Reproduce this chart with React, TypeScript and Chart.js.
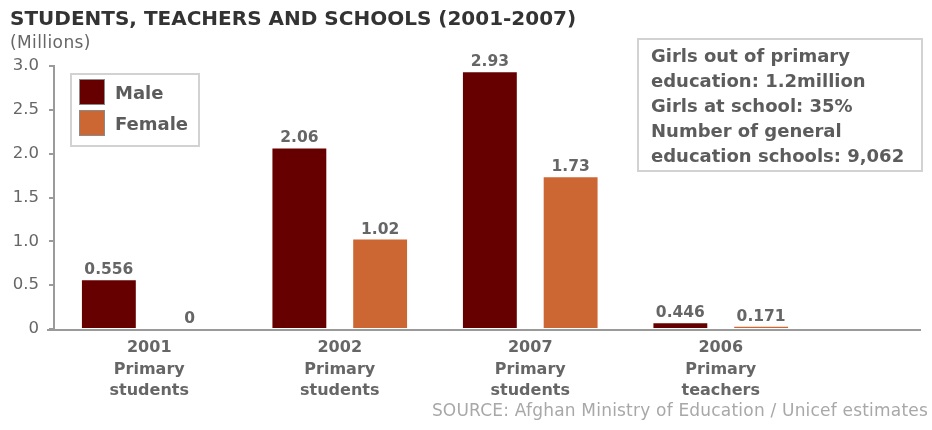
import React, { useEffect, useRef } from 'react';
import { Chart, registerables } from 'chart.js';

Chart.register(...registerables);

// ---- Data ----
const categoryYears = ['2001', '2002', '2007', '2006'];
const categoryKinds = [
  ['Primary', 'students'],
  ['Primary', 'students'],
  ['Primary', 'students'],
  ['Primary', 'teachers'],
];
const seriesNames = ['Male', 'Female'];
const maleValues = [0.556, 2.06, 2.93, 0.065];
const femaleValues = [0, 1.02, 1.73, 0.025];
const maleLabels = ['0.556', '2.06', '2.93', '0.446'];
const femaleLabels = ['0', '1.02', '1.73', '0.171'];
const yTickLabels = ['0', '0.5', '1.0', '1.5', '2.0', '2.5', '3.0'];
const noteLines = [
  'Girls out of primary',
  'education: 1.2million',
  'Girls at school: 35%',
  'Number of general',
  'education schools: 9,062',
];
const titleText = 'STUDENTS, TEACHERS AND SCHOOLS (2001-2007)';
const unitText = '(Millions)';
const sourceText = 'SOURCE: Afghan Ministry of Education / Unicef estimates';

// ---- Styles ----
const FONT = '"DejaVu Sans", Verdana, sans-serif';
const seriesColors = ['#660000', '#cc6633'];
const AXIS = '#9a9a9a';
const TEXT = '#666666';
const DARK_TEXT = '#5c5c5c';

const valueLabels = [maleLabels, femaleLabels];

const baselinePlugin = {
  id: 'baseline',
  beforeDatasetsDraw(chart: any) {
    const { ctx, chartArea, scales } = chart;
    const y = Math.round(scales.y.getPixelForValue(0)) + 1;
    ctx.save();
    ctx.strokeStyle = AXIS;
    ctx.lineWidth = 2;
    ctx.beginPath();
    ctx.moveTo(chartArea.left - 7, y);
    ctx.lineTo(chart.width - 11, y);
    ctx.stroke();
    ctx.restore();
  },
};

const valueLabelPlugin = {
  id: 'valueLabels',
  afterDatasetsDraw(chart: any) {
    const { ctx } = chart;
    ctx.save();
    ctx.font = `bold 15.5px ${FONT}`;
    ctx.fillStyle = TEXT;
    ctx.textAlign = 'center';
    ctx.textBaseline = 'alphabetic';
    chart.data.datasets.forEach((_ds: any, i: number) => {
      const meta = chart.getDatasetMeta(i);
      meta.data.forEach((el: any, j: number) => {
        ctx.fillText(valueLabels[i][j], el.x, el.y - 6);
      });
    });
    ctx.restore();
  },
};

export default function App() {
  const canvasRef = useRef<HTMLCanvasElement | null>(null);

  useEffect(() => {
    if (!canvasRef.current) return;
    const chart = new Chart(canvasRef.current, {
      type: 'bar',
      data: {
        labels: categoryYears.map((y, i) => [y, ...categoryKinds[i]]),
        datasets: [
          {
            label: seriesNames[0],
            data: maleValues,
            backgroundColor: seriesColors[0],
            barPercentage: 0.667,
            categoryPercentage: 0.848,
          },
          {
            label: seriesNames[1],
            data: femaleValues,
            backgroundColor: seriesColors[1],
            barPercentage: 0.667,
            categoryPercentage: 0.848,
          },
        ],
      },
      options: {
        responsive: false,
        animation: false,
        devicePixelRatio: 1,
        events: [],
        layout: { padding: { left: 0, top: 66, right: 116, bottom: 0 } },
        plugins: {
          legend: { display: false },
          tooltip: { enabled: false },
          title: { display: false },
        },
        scales: {
          x: {
            type: 'category',
            offset: true,
            grid: { display: false, drawTicks: false },
            border: { display: false },
            ticks: {
              color: TEXT,
              padding: 8,
              maxRotation: 0,
              autoSkip: false,
              font: { family: FONT, size: 16, weight: 'bold', lineHeight: 1.35 },
            },
            afterFit: (s: any) => {
              s.height = 101;
            },
          },
          y: {
            min: 0,
            max: 3,
            ticks: {
              stepSize: 0.5,
              color: TEXT,
              padding: 10,
              font: { family: FONT, size: 16.5 },
              callback: (_v: any, i: number) => yTickLabels[i],
            },
            grid: {
              drawOnChartArea: false,
              drawTicks: true,
              tickLength: 5,
              color: AXIS,
              lineWidth: 2,
            },
            border: { display: true, color: AXIS, width: 2 },
            afterFit: (s: any) => {
              s.width = 54;
            },
          },
        },
      } as any,
      plugins: [baselinePlugin, valueLabelPlugin],
    });
    return () => chart.destroy();
  }, []);

  return (
    <div
      style={{
        position: 'fixed',
        left: 0,
        top: 0,
        width: 932,
        height: 430,
        background: '#ffffff',
        overflow: 'hidden',
        fontFamily: FONT,
      }}
    >
      <canvas
        ref={canvasRef}
        width={932}
        height={430}
        style={{ position: 'absolute', left: 0, top: 0, width: 932, height: 430 }}
      />
      <div
        style={{
          position: 'absolute',
          left: 10,
          top: 8,
          fontSize: 20,
          lineHeight: '20px',
          fontWeight: 'bold',
          color: '#333333',
          whiteSpace: 'nowrap',
        }}
      >
        {titleText}
      </div>
      <div
        style={{
          position: 'absolute',
          left: 10,
          top: 34,
          fontSize: 17,
          lineHeight: '17px',
          letterSpacing: '0.4px',
          color: TEXT,
          whiteSpace: 'nowrap',
        }}
      >
        {unitText}
      </div>
      {/* Legend */}
      <div
        style={{
          position: 'absolute',
          left: 70,
          top: 73,
          width: 130,
          height: 74,
          boxSizing: 'border-box',
          border: '2px solid #d2d2d2',
        }}
      >
        {seriesNames.map((name, i) => (
          <div
            key={name}
            style={{
              position: 'absolute',
              left: 7,
              top: 4 + i * 31,
              height: 26,
              display: 'flex',
              alignItems: 'center',
              whiteSpace: 'nowrap',
            }}
          >
            <div
              style={{
                width: 26,
                height: 26,
                boxSizing: 'border-box',
                background: seriesColors[i],
                border: '1px solid #8a8a8a',
              }}
            />
            <span
              style={{
                marginLeft: 10,
                fontSize: 18,
                fontWeight: 'bold',
                color: DARK_TEXT,
              }}
            >
              {name}
            </span>
          </div>
        ))}
      </div>
      {/* Note box */}
      <div
        style={{
          position: 'absolute',
          left: 637,
          top: 38,
          width: 286,
          height: 134,
          boxSizing: 'border-box',
          border: '2px solid #d2d2d2',
          paddingLeft: 12,
          paddingTop: 3,
        }}
      >
        {noteLines.map((line, i) => (
          <div
            key={i}
            style={{
              fontSize: 18,
              lineHeight: '25px',
              fontWeight: 'bold',
              color: DARK_TEXT,
              whiteSpace: 'nowrap',
            }}
          >
            {line}
          </div>
        ))}
      </div>
      <div
        style={{
          position: 'absolute',
          right: 4,
          top: 401.6,
          fontSize: 17,
          lineHeight: '17px',
          letterSpacing: '0.2px',
          color: '#a8a8a8',
          whiteSpace: 'nowrap',
        }}
      >
        {sourceText}
      </div>
    </div>
  );
}
